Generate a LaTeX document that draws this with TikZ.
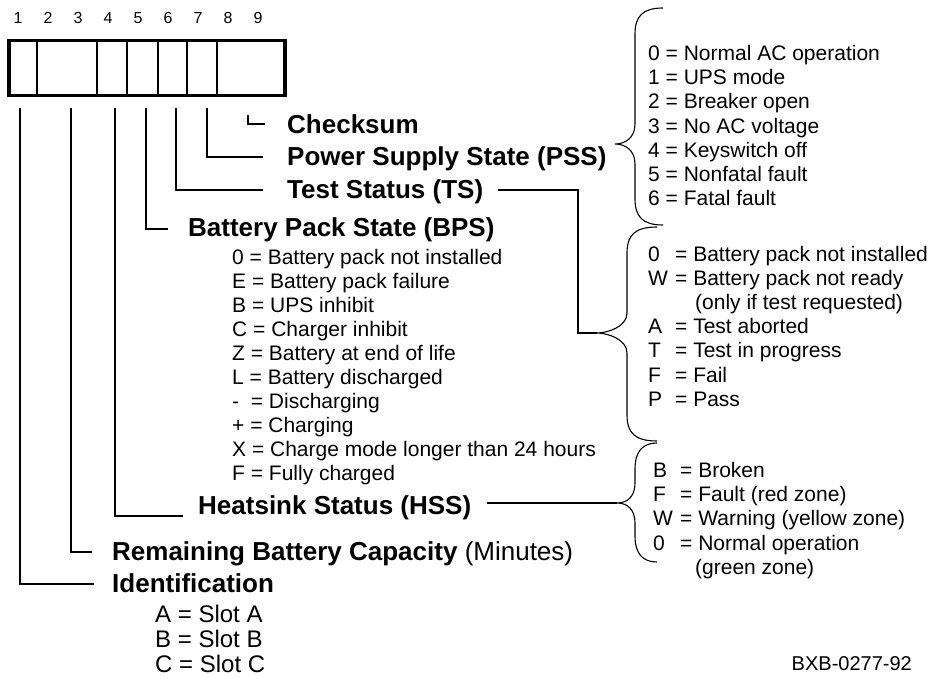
\documentclass[tikz,border=0pt]{standalone}
\usepackage{fontspec}
\setmainfont{Liberation Sans}
\newcommand\kk[1]{\makebox[27pt][l]{#1}}
\newcommand\mybrace[6]{% #1 end x, #2 top y, #3 spine x, #4 tip x, #5 tip y, #6 bottom y
  \draw[br] (#1,#2) .. controls (#3+8,#2) and (#3,#2+8) .. (#3,#2+26)
    -- (#3,#5-20) .. controls (#3,#5-6) and (#4+10,#5) .. (#4,#5)
    .. controls (#4+10,#5) and (#3,#5+6) .. (#3,#5+20)
    -- (#3,#6-26) .. controls (#3,#6-8) and (#3+8,#6) .. (#1,#6);}
\tikzset{
  conn/.style={line width=1.2pt},
  br/.style={line width=1.1pt},
  bd/.style={font=\fontsize{26}{30}\selectfont\bfseries, inner sep=0pt, anchor=base west},
  rg/.style={font=\fontsize{21}{24}\selectfont, inner sep=0pt, anchor=base west},
  sl/.style={font=\fontsize{24}{26}\selectfont, inner sep=0pt, anchor=base west},
  num/.style={font=\fontsize{16}{18}\selectfont, inner sep=0pt},
}
\begin{document}
\begin{tikzpicture}[x=1pt,y=-1pt]
\useasboundingbox (0,0) rectangle (931,679);
% top numbers
\foreach \k in {1,...,9} \node[num] (n\k) at (18+30*\k-30,18) {\k};
% register box
\node[draw, line width=3.5pt, minimum width=276pt, minimum height=55pt, inner sep=0pt, anchor=north west] (box) at (7,39) {};
\foreach \x in {37,97,127,158,187,217} \draw[line width=1.2pt] (\x,39) -- (\x,94);
% connector starts and ends
\coordinate (c9) at (248,115); \coordinate (e9) at (265,124);
\coordinate (c7) at (207,108); \coordinate (e7) at (263,157);
\coordinate (c6) at (176,108); \coordinate (e6) at (263,190);
\coordinate (c5) at (146,108); \coordinate (e5) at (168,229);
\coordinate (c4) at (115,108); \coordinate (e4) at (183,516);
\coordinate (c2) at (71,108);  \coordinate (e2) at (92,552);
\coordinate (c1) at (20,108);  \coordinate (e1) at (94,584);
\foreach \k in {9,7,6,5,4,2,1} \draw[conn] (c\k) |- (e\k);
% bold labels
\node[bd] (chk) at (287,134) {Checksum};
\node[bd] (pss) at (287,166) {Power Supply State (PSS)};
\node[bd] (ts)  at (287,199) {Test Status (TS)};
\node[bd] (bps) at (188,236) {Battery Pack State (BPS)};
\node[bd] (hss) at (198,514) {Heatsink Status (HSS)};
\node[bd] (rbc) at (112,560) {Remaining Battery Capacity \mdseries (Minutes)};
\node[bd] (idf) at (112,592) {Identification};
% BPS values
\foreach \t [count=\i from 0] in {0 = Battery pack not installed, E = Battery pack failure, B = UPS inhibit, C = Charger inhibit, Z = Battery at end of life, L = Battery discharged, -\ \ = Discharging, + = Charging, X = Charge mode longer than 24 hours, F = Fully charged}
  \node[rg] (bpsv\i) at (232,264.5+24*\i) {\t};
% Identification values
\node[sl] (sa) at (155,622) {A = Slot A};
\node[sl] (sb) at (155,647) {B = Slot B};
\node[sl] (sc) at (155,672) {C = Slot C};
% PSS values
\foreach \t [count=\i from 0] in {0 = Normal AC operation, 1 = UPS mode, 2 = Breaker open, 3 = No AC voltage, 4 = Keyswitch off, 5 = Nonfatal fault, 6 = Fatal fault}
  \node[rg] (pssv\i) at (648,60.5+24.2*\i) {\t};
% TS values
\foreach \x/\t [count=\i from 0] in {648/{\kk{0}= Battery pack not installed}, 648/{\kk{W}= Battery pack not ready}, 695/{(only if test requested)}, 648/{\kk{A}= Test aborted}, 648/{\kk{T}= Test in progress}, 648/{\kk{F}= Fail}, 648/{\kk{P}= Pass}}
  \node[rg] (tsv\i) at (\x,261+24.2*\i) {\t};
% HSS values
\foreach \x/\t [count=\i from 0] in {653/{\kk{B}= Broken}, 653/{\kk{F}= Fault (red zone)}, 653/{\kk{W}= Warning (yellow zone)}, 653/{\kk{0}= Normal operation}, 695/{(green zone)}}
  \node[rg] (hssv\i) at (\x,477.5+24.2*\i) {\t};
% braces
\coordinate (b1tip) at (615,144);
\coordinate (b2tip) at (597,333);
\coordinate (b3tip) at (617,503);
\mybrace{663}{8}{635}{615}{144}{225}
\mybrace{657}{227}{627}{597}{333}{441}
\mybrace{657}{443}{635}{617}{503}{562}
% TS and HSS connectors to braces
\coordinate (tsr) at (498,190);
\coordinate (tsk) at (578,333);
\draw[conn] (tsr) -| (tsk) -- (b2tip);
\coordinate (hssr) at (487,503);
\draw[conn] (hssr) -- (b3tip);
% figure id
\node[font=\fontsize{20}{24}\selectfont, inner sep=0pt, anchor=base east] (fig) at (912,670) {BXB-0277-92};
\end{tikzpicture}
\end{document}
